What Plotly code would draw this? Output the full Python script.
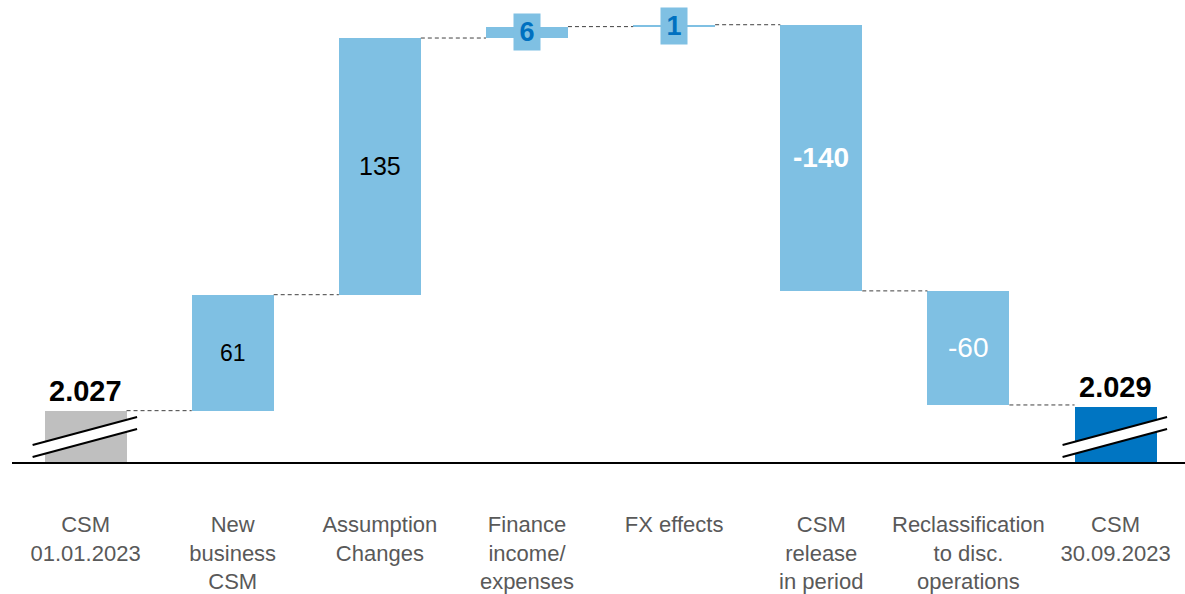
import plotly.graph_objects as go

# CSM development, 01.01.2023 -> 30.09.2023 (EUR m)
categories = [
    "CSM<br>01.01.2023",
    "New<br>business<br>CSM",
    "Assumption<br>Changes",
    "Finance<br>income/<br>expenses",
    "FX effects",
    "CSM<br>release<br>in period",
    "Reclassification<br>to disc.<br>operations",
    "CSM<br>30.09.2023",
]
opening_csm = 2027
movements = [61, 135, 6, 1, -140, -60]
closing_csm = 2029

AXIS_MIN = 2000
AXIS_MAX = 2243

GREY = "#BFBFBF"
LIGHT_BLUE = "#7FC0E3"
DARK_BLUE = "#0075C2"
LABEL_BLUE = "#0070C0"
TEXT_GREY = "#595959"
BAR_WIDTH = 0.557

FONT = "Liberation Sans, Arial, sans-serif"


def de_number(v):
    return f"{v:,}".replace(",", ".")


# bases and heights for a floating-bar waterfall
bases, heights, levels = [0], [opening_csm], [opening_csm]
running = opening_csm
for d in movements:
    bases.append(running)
    heights.append(d)
    running += d
    levels.append(running)
bases.append(0)
heights.append(closing_csm)

colors = [GREY] + [LIGHT_BLUE] * len(movements) + [DARK_BLUE]
x_idx = list(range(len(categories)))

fig = go.Figure()
fig.add_trace(go.Bar(
    x=x_idx,
    y=heights,
    base=bases,
    width=BAR_WIDTH,
    marker=dict(color=colors, line=dict(width=0)),
    hoverinfo="skip",
    showlegend=False,
))

shapes = []
# dashed connectors between consecutive bars
for i in range(len(categories) - 1):
    shapes.append(dict(
        type="line", xref="x", yref="y",
        x0=i + BAR_WIDTH / 2, x1=i + 1 - BAR_WIDTH / 2,
        y0=levels[i], y1=levels[i],
        line=dict(color="#404040", width=1, dash="4px,3px"),
    ))

# axis-break marks across the opening and closing bars
for c in (0, len(categories) - 1):
    xl, xr = c - 0.36, c + 0.35
    lo_l, lo_r, hi_l, hi_r = AXIS_MIN + 2.6, AXIS_MIN + 17.4, AXIS_MIN + 8.9, AXIS_MIN + 23.7
    shapes.append(dict(
        type="path", xref="x", yref="y",
        path=f"M {xl} {lo_l} L {xr} {lo_r} L {xr} {hi_r} L {xl} {hi_l} Z",
        fillcolor="white", line=dict(width=0),
    ))
    for yl, yr in ((lo_l, lo_r), (hi_l, hi_r)):
        shapes.append(dict(
            type="line", xref="x", yref="y",
            x0=xl, x1=xr, y0=yl, y1=yr,
            line=dict(color="black", width=2),
        ))

annotations = []
# totals above their bars
for i, v in ((0, opening_csm), (len(categories) - 1, closing_csm)):
    annotations.append(dict(
        x=i, y=v, xref="x", yref="y", text=f"<b>{de_number(v)}</b>",
        showarrow=False, yanchor="bottom", yshift=2,
        font=dict(family=FONT, size=29, color="black"),
    ))

# labels centred on the movement bars
label_styles = {
    61: dict(size=23, color="black", bold=False, bg=None),
    135: dict(size=25, color="black", bold=False, bg=None),
    6: dict(size=27, color=LABEL_BLUE, bold=True, bg=LIGHT_BLUE),
    1: dict(size=27, color=LABEL_BLUE, bold=True, bg=LIGHT_BLUE),
    -140: dict(size=28, color="white", bold=True, bg=None),
    -60: dict(size=28, color="white", bold=False, bg=None),
}
for k, d in enumerate(movements):
    i = k + 1
    st = label_styles[d]
    txt = de_number(d)
    if st["bold"]:
        txt = f"<b>{txt}</b>"
    ann = dict(
        x=i, y=bases[i] + d / 2, xref="x", yref="y", text=txt,
        showarrow=False, yanchor="middle",
        font=dict(family=FONT, size=st["size"], color=st["color"]),
    )
    if st["bg"]:
        ann.update(bgcolor=st["bg"], borderpad=1, width=24, height=34)
    annotations.append(ann)

fig.update_layout(
    width=1185, height=594,
    margin=dict(l=12, r=0, t=0, b=132),
    paper_bgcolor="white", plot_bgcolor="white",
    bargap=0,
    shapes=shapes,
    annotations=annotations,
    xaxis=dict(
        range=[-0.5, 7.472],
        tickmode="array", tickvals=x_idx, ticktext=categories,
        showgrid=False, zeroline=False,
        showline=True, linecolor="black", linewidth=1.5,
        ticks="", ticklabelstandoff=42,
        tickfont=dict(family=FONT, size=22, color=TEXT_GREY),
        fixedrange=True,
    ),
    yaxis=dict(
        range=[AXIS_MIN, AXIS_MAX],
        visible=False, showgrid=False, zeroline=False,
        fixedrange=True,
    ),
)

fig.write_html("out.html")
